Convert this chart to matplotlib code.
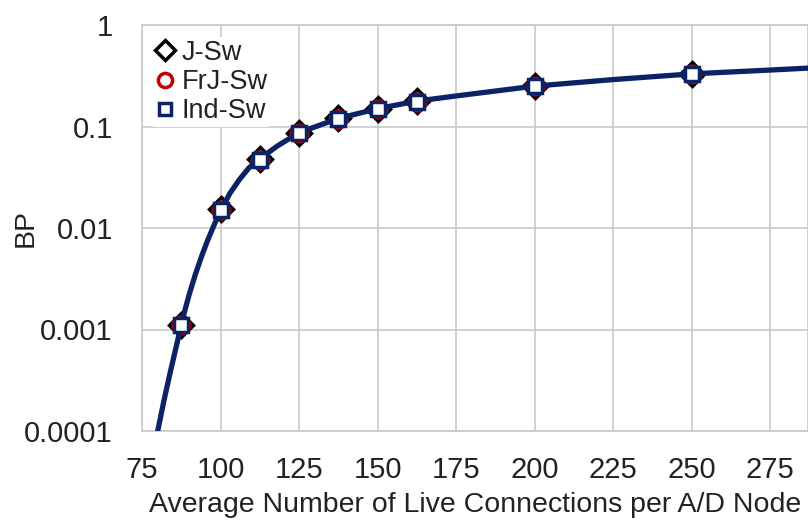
import numpy as np
import matplotlib
matplotlib.use("Agg")
import matplotlib.pyplot as plt

plt.rcParams['font.family'] = ['Liberation Sans', 'DejaVu Sans']

# marker positions
conn = [87.5, 100, 112.5, 125, 137.5, 150, 162.5, 200, 250]
bp_j = [0.0011, 0.0155, 0.048, 0.087, 0.12, 0.15, 0.178, 0.25, 0.33]
bp_frj = [0.0011, 0.0150, 0.047, 0.086, 0.119, 0.149, 0.176, 0.248, 0.328]
bp_ind = [0.0011, 0.0150, 0.047, 0.086, 0.119, 0.149, 0.176, 0.248, 0.328]

# fitted curve
curve_x = [80, 82, 84, 86, 88, 90, 92, 94, 96, 98, 100, 103, 106, 109, 112.5,
           118, 125, 137.5, 150, 162.5, 175, 200, 225, 250, 275, 290]
curve_y = [0.0001, 0.0002, 0.00038, 0.0007, 0.0013, 0.0022, 0.0035, 0.0053,
           0.0077, 0.0108, 0.0148, 0.022, 0.030, 0.039, 0.048,
           0.064, 0.087, 0.12, 0.15, 0.178, 0.2, 0.25, 0.29, 0.33, 0.36, 0.38]

xticks = [75, 100, 125, 150, 175, 200, 225, 250, 275]
yticks = [0.0001, 0.001, 0.01, 0.1, 1]
ytick_labels = ['0.0001', '0.001', '0.01', '0.1', '1']

fig = plt.figure(figsize=(8.08, 5.2), dpi=100)
ax = fig.add_axes([142 / 808, 89 / 520, 666 / 808, 406 / 520])

navy = '#0b2265'
ax.plot(conn, bp_j, linestyle='none', marker='D', markersize=12,
        markerfacecolor='white', markeredgecolor='black', markeredgewidth=2.5,
        label='J-Sw', zorder=3)
ax.plot(conn, bp_frj, linestyle='none', marker='o', markersize=12,
        markerfacecolor='white', markeredgecolor='#c00000', markeredgewidth=2.5,
        label='FrJ-Sw', zorder=4)
ax.plot(curve_x, curve_y, color=navy, linewidth=3.8, zorder=5)
ax.plot(conn, bp_ind, linestyle='none', marker='s', markersize=10,
        markerfacecolor='white', markeredgecolor=navy, markeredgewidth=2.5,
        label='Ind-Sw', zorder=6)

ax.set_yscale('log')
ax.set_xlim(75, 287)
ax.set_ylim(0.0001, 1)
ax.set_xticks(xticks)
ax.set_yticks(yticks)
ax.set_yticklabels(ytick_labels)
ax.minorticks_off()
ax.tick_params(labelsize=21, length=0, colors='#222222')
ax.tick_params(axis='y', pad=21)
ax.tick_params(axis='x', pad=18)
ax.grid(True, color='#c8c8c8', linewidth=1.2)
for s in ax.spines.values():
    s.set_color('#c8c8c8')
    s.set_linewidth(1.2)

ax.set_ylabel('BP', fontsize=20.5, color='#222222')
ax.yaxis.set_label_coords(-0.155, 0.5)
ax.set_xlabel('Average Number of Live Connections per A/D Node', fontsize=20.5,
              labelpad=6, color='#222222')

leg = ax.legend(loc='upper left', fontsize=19.5, frameon=True, framealpha=1,
                edgecolor='none', facecolor='white', handletextpad=0.15,
                handlelength=0.9, borderpad=0.1, labelspacing=0.12,
                markerscale=0.85, borderaxespad=0.3,
                bbox_to_anchor=(0.0, 0.99))
for t in leg.get_texts():
    t.set_color('#222222')

fig.savefig('out.png', dpi=100)
